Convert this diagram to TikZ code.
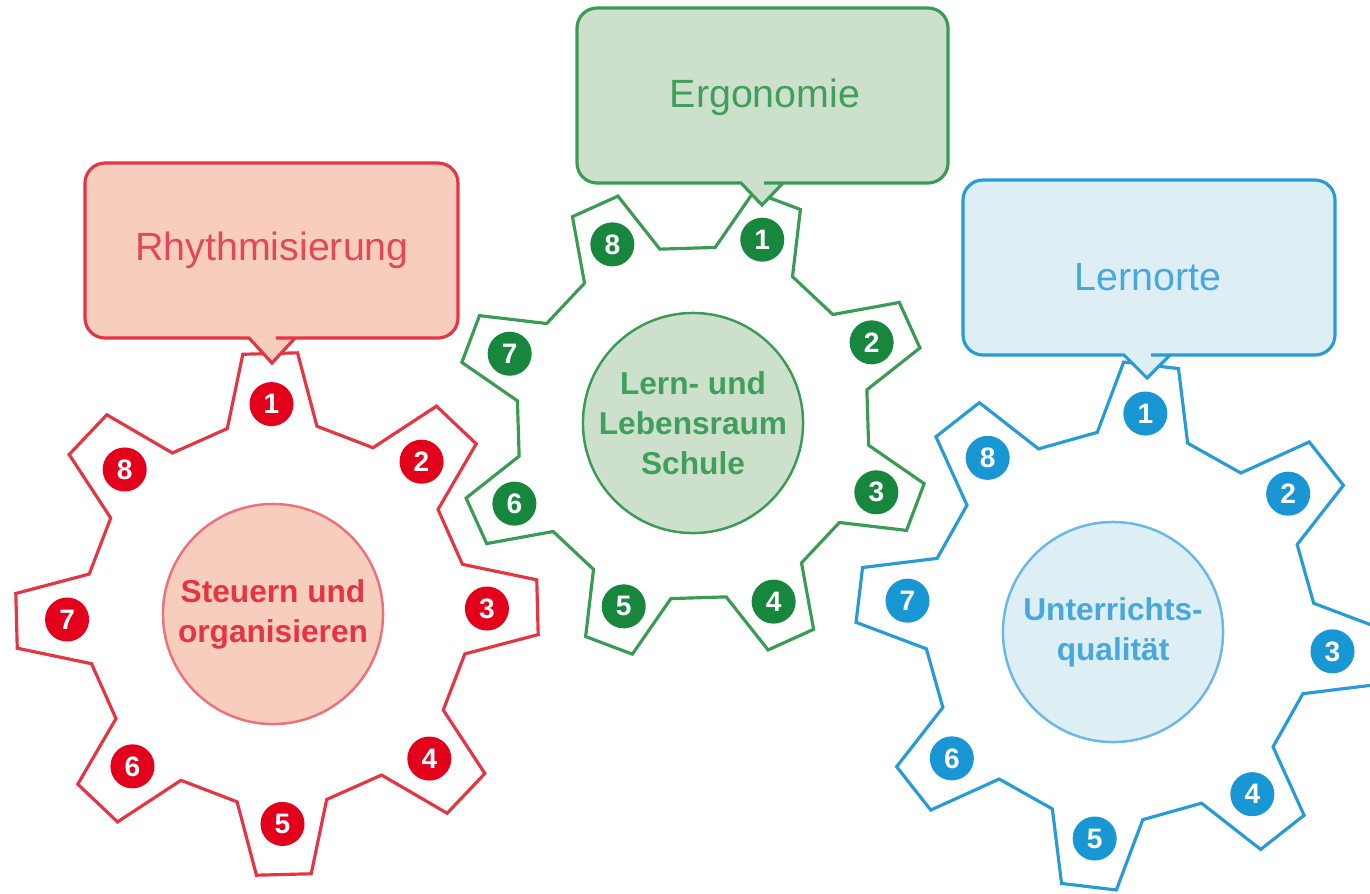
\documentclass[tikz,border=0pt]{standalone}
\usepackage{fontspec}
\setmainfont{Liberation Sans}
\usetikzlibrary{positioning}

\definecolor{redline}{RGB}{229,52,66}
\definecolor{rednum}{RGB}{226,0,26}
\definecolor{redfill}{RGB}{247,205,190}
\definecolor{redtext}{RGB}{226,72,88}
\definecolor{greenline}{RGB}{58,155,85}
\definecolor{greennum}{RGB}{22,135,60}
\definecolor{greenfill}{RGB}{205,224,203}
\definecolor{greentext}{RGB}{62,160,90}
\definecolor{blueline}{RGB}{40,155,215}
\definecolor{bluenum}{RGB}{25,150,212}
\definecolor{bluefill}{RGB}{221,238,245}
\definecolor{bluetext}{RGB}{70,168,220}

\tikzset{
  gearline/.style={line width=0.9pt, line join=miter},
  numdot/.style={circle, inner sep=0pt, minimum size=4.4mm, text=white,
    font=\fontsize{8}{8}\selectfont\bfseries},
  core/.style={circle, inner sep=0pt, minimum size=22mm, align=center, line width=0.7pt,
    font=\fontsize{9}{11.4}\selectfont\bfseries},
  boxline/.style={line width=0.9pt},
  boxtext/.style={font=\fontsize{11.2}{13}\selectfont}
}

\begin{document}
\begin{tikzpicture}[x=0.01cm, y=0.01cm]
\clip (0,0) rectangle (1370,-893);

% red gear
\begin{scope}[shift={(277,-614)}]
\draw[gearline, draw=redline] ({91.5-22.5}:{192*cos(9)})
  \foreach \k in {0,...,7}{ -- ({91.5+45*\k-13.5}:192) -- ({91.5+45*\k-6}:262)
    -- ({91.5+45*\k+6}:262) -- ({91.5+45*\k+13.5}:192)} -- cycle;
\foreach \n in {1,...,8}
  \node[numdot, fill=rednum] (r\n) at ({91.5-45*(\n-1)}:210) {\n};
\node[core, draw=redline!70, fill=redfill, text=redline] (rcore) at (-4,0) {Steuern und\\organisieren};
\end{scope}

% green gear
\begin{scope}[shift={(693,-423)}]
\draw[gearline, draw=greenline] ({69.3-22.5}:{177*cos(9)})
  \foreach \k in {0,...,7}{ -- ({69.3+45*\k-13.5}:177) -- ({69.3+45*\k-6}:239)
    -- ({69.3+45*\k+6}:239) -- ({69.3+45*\k+13.5}:177)} -- cycle;
\foreach \n in {1,...,8}
  \node[numdot, fill=greennum] (g\n) at ({69.3-45*(\n-1)}:196) {\n};
\node[core, draw=greenline, fill=greenfill, text=greentext] (gcore) at (0,0) {Lern- und\\Lebensraum\\Schule};
\end{scope}

% blue gear
\begin{scope}[shift={(1120,-626)}]
\draw[gearline, draw=blueline] ({83.2-22.5}:{195*cos(9)})
  \foreach \k in {0,...,7}{ -- ({83.2+45*\k-13.5}:195) -- ({83.2+45*\k-6}:264)
    -- ({83.2+45*\k+6}:264) -- ({83.2+45*\k+13.5}:195)} -- cycle;
\foreach \n in {1,...,8}
  \node[numdot, fill=bluenum] (b\n) at ({83.2-45*(\n-1)}:214) {\n};
\node[core, draw=blueline!70, fill=bluefill, text=bluetext] (bcore) at (-7,-6) {Unterrichts-\\qualität};
\end{scope}

% callouts
\draw[boxline, draw=redline, fill=redfill] (272,-163) [rounded corners=2mm] -- (458,-163) -- (458,-338)
  -- (296,-338) [sharp corners] -- (295,-338) -- (272,-363) -- (249,-338) -- (248,-338)
  [rounded corners=2mm] -- (85,-338) -- (85,-163) -- cycle;
\node[boxtext, text=redtext] (rhythm) at (272,-250) {Rhythmisierung};

\draw[boxline, draw=greenline, fill=greenfill] (762,-8) [rounded corners=2mm] -- (948,-8) -- (948,-183)
  -- (784,-183) [sharp corners] -- (783,-183) -- (762,-205) -- (741,-183) -- (740,-183)
  [rounded corners=2mm] -- (577,-183) -- (577,-8) -- cycle;
\node[boxtext, text=greentext] (ergo) at (765,-97) {Ergonomie};

\draw[boxline, draw=blueline, fill=bluefill] (1147,-180) [rounded corners=2mm] -- (1335,-180) -- (1335,-355)
  -- (1171,-355) [sharp corners] -- (1170,-355) -- (1147,-378) -- (1124,-355) -- (1123,-355)
  [rounded corners=2mm] -- (963,-355) -- (963,-180) -- cycle;
\node[boxtext, text=bluetext] (lernorte) at (1148,-277) {Lernorte};
\end{tikzpicture}
\end{document}
